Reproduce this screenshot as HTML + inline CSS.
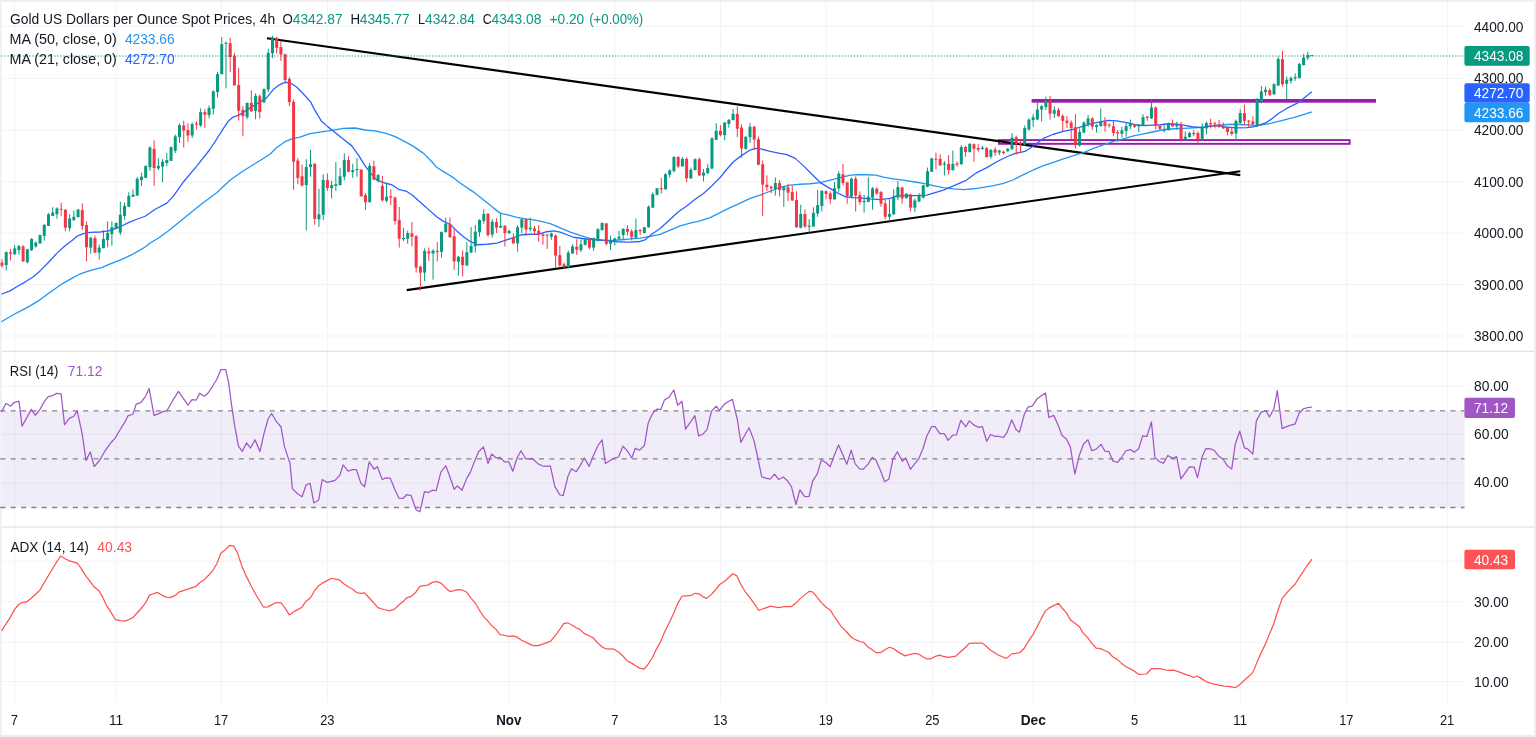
<!DOCTYPE html>
<html><head><meta charset="utf-8"><title>Gold chart</title>
<style>
html,body{margin:0;padding:0;background:#fff}
body{width:1536px;height:737px;overflow:hidden}
svg{display:block;will-change:transform}
svg text{font-family:"Liberation Sans",sans-serif;}
</style></head><body>
<svg width="1536" height="737" viewBox="0 0 1536 737">
<rect x="0" y="0" width="1536" height="737" fill="#eeeff3"/>
<rect x="1.7" y="1.9" width="1532.3" height="732.9" fill="#fff"/>
<g stroke="#f2f3f5" stroke-width="1">
<line x1="14.5" y1="2" x2="14.5" y2="702.8"/>
<line x1="116.3" y1="2" x2="116.3" y2="702.8"/>
<line x1="221.3" y1="2" x2="221.3" y2="702.8"/>
<line x1="327.5" y1="2" x2="327.5" y2="702.8"/>
<line x1="508.8" y1="2" x2="508.8" y2="702.8"/>
<line x1="615" y1="2" x2="615" y2="702.8"/>
<line x1="720.5" y1="2" x2="720.5" y2="702.8"/>
<line x1="826" y1="2" x2="826" y2="702.8"/>
<line x1="932.5" y1="2" x2="932.5" y2="702.8"/>
<line x1="1033.3" y1="2" x2="1033.3" y2="702.8"/>
<line x1="1134.7" y1="2" x2="1134.7" y2="702.8"/>
<line x1="1240.3" y1="2" x2="1240.3" y2="702.8"/>
<line x1="1346.5" y1="2" x2="1346.5" y2="702.8"/>
<line x1="1447.3" y1="2" x2="1447.3" y2="702.8"/>
<line x1="2" y1="26.5" x2="1464.5" y2="26.5"/>
<line x1="2" y1="78.4" x2="1464.5" y2="78.4"/>
<line x1="2" y1="130.3" x2="1464.5" y2="130.3"/>
<line x1="2" y1="181.6" x2="1464.5" y2="181.6"/>
<line x1="2" y1="233" x2="1464.5" y2="233"/>
<line x1="2" y1="284.5" x2="1464.5" y2="284.5"/>
<line x1="2" y1="336" x2="1464.5" y2="336"/>
<line x1="2" y1="386.5" x2="1464.5" y2="386.5"/>
<line x1="2" y1="434.5" x2="1464.5" y2="434.5"/>
<line x1="2" y1="483" x2="1464.5" y2="483"/>
<line x1="2" y1="561.3" x2="1464.5" y2="561.3"/>
<line x1="2" y1="601.8" x2="1464.5" y2="601.8"/>
<line x1="2" y1="642.2" x2="1464.5" y2="642.2"/>
<line x1="2" y1="681.5" x2="1464.5" y2="681.5"/>
</g>
<g stroke="#e0e3eb" stroke-width="1.2"><line x1="2" y1="351.3" x2="1534" y2="351.3"/><line x1="2" y1="527.2" x2="1534" y2="527.2"/></g>
<rect x="2" y="410.8" width="1462.5" height="96.7" fill="#7e57c2" fill-opacity="0.11"/>
<g stroke="#80838c" stroke-width="1.3" stroke-dasharray="5 5.358"><line x1="0.34" y1="410.9" x2="1464.5" y2="410.9"/><line x1="0.34" y1="458.9" x2="1464.5" y2="458.9"/><line x1="0.34" y1="507.5" x2="1464.5" y2="507.5"/></g>
<rect x="1031.6" y="99.0" width="344.4" height="3.7" fill="#9a1cad"/>
<rect x="998.9" y="140.05" width="350.7" height="3.8" fill="#fdf6fd" stroke="#9a1cad" stroke-width="1.9"/>
<g stroke="#000" stroke-width="2.15" stroke-linecap="butt"><line x1="267" y1="38.3" x2="1240.3" y2="175.1"/><line x1="406.7" y1="290.1" x2="1240.3" y2="171.3"/></g>
<polyline fill="none" stroke="#2196f3" stroke-width="1.3" stroke-linejoin="round" points="1.34,321.79 13.35,314.78 21.7,310.44 30.04,305.93 38.38,300.93 46.73,294.75 55.07,288.74 63.42,283.07 71.76,278.4 78.44,274.73 86.78,271.72 93.46,269.55 101.8,267.55 108.48,264.71 116.82,261.38 123.5,258.7 131.84,254.7 138.52,250.86 145.19,247.02 150.2,243.02 158.54,238.01 168.56,230.83 183.58,218.42 200.27,205.07 216.96,192.56 230.31,180.04 241.99,171.7 256.01,163.02 270,154.21 276.68,147.54 285.02,141.7 293.36,138.36 300.04,137.02 310.05,133.68 320.07,132.02 331.75,130.35 343.43,128.34 355.11,128.01 365.13,130.01 376.81,131.18 386.82,133.68 395.17,136.69 403.51,140.86 413.52,146.37 423.54,153.38 431.88,161.72 436.89,167.56 445.23,172.57 453.58,177.91 461.92,184.25 473.6,192.1 485.29,201.28 493.63,208.12 500.31,213.12 508.65,215.13 517,217.3 526.01,218.8 531.87,219.55 540.21,221.22 550.23,223.72 560.24,227.9 570.25,232.07 580.27,235.41 588.61,238.08 596.96,239.75 605.3,240.41 613.64,240.41 621.99,239.75 630.33,238.91 640.03,238.14 650.04,236.48 660.05,234.31 670.07,230.13 680.08,225.96 690.09,223.12 700.11,220.95 710.12,217.62 720.13,212.61 730.15,207.6 740.16,203.1 750.17,198.42 760.19,195.09 770.2,191.25 780.21,187.24 790.23,185.07 800.24,184.24 810.25,183.74 820.27,182.57 830.28,180.07 840.29,177.56 850.31,175.06 856.98,174.56 867,174.73 876.01,175.06 883.36,177.09 893.38,178.93 903.39,180.09 913.4,181.76 923.42,183.43 933.43,185.6 943.44,187.6 953.46,188.94 963.47,189.61 973.48,188.77 983.5,187.27 993.51,185.6 1003.52,183.43 1013.54,179.76 1023.35,174.64 1033.36,169.97 1043.38,165.63 1053.39,162.29 1063.4,158.95 1073.42,155.61 1083.43,152.61 1093.44,148.44 1103.46,144.77 1113.47,141.43 1123.48,138.76 1133.5,135.92 1143.51,133.92 1153.52,131.75 1163.54,129.75 1173.55,128.74 1183.56,128.41 1193.58,127.91 1203.59,127.24 1213.6,125.91 1223.62,124.74 1233.63,124.24 1243.64,124.74 1251.99,125.07 1256.74,125.96 1271.76,123.12 1283.44,120.12 1295.13,117.12 1303.47,114.61 1311.82,111.78"/>
<polyline fill="none" stroke="#2962ff" stroke-width="1.3" stroke-linejoin="round" points="1.34,294.25 10.01,290.91 16.69,286.74 25.03,282.07 33.38,276.73 40.05,270.89 48.4,262.54 56.74,253.36 65.09,245.85 71.76,240.85 77.6,235.84 83.44,233.67 90.12,232.34 100.13,232 108.48,230.83 116.82,228.1 120.16,226.77 128.5,222.6 136.85,219.26 145.19,216.26 155.21,209.25 166.89,203.07 173.56,195.89 183.58,181.71 196.93,165.85 209.45,150 214.78,142.15 218.95,135.48 223.13,128.8 228.13,121.29 233.14,117.12 238.98,115.12 244.82,111.28 251.5,107.11 259.84,102.1 266.52,97.93 273.19,89.58 279.87,84.58 284.88,82.41 289.88,82.57 296.56,87.08 303.23,93.76 310.74,102.1 314.92,110.44 321.59,121.29 328.27,127.13 336.61,133.81 344.96,140.48 351.78,145.87 358.45,155.05 365.13,165.89 370.13,172.57 376.81,180.08 385.15,183.08 391.83,184.75 398.5,189.26 406.85,191.43 413.52,195.93 415.05,197.52 423.39,205.03 430.07,210.87 436.74,216.72 443.42,221.39 450.09,224.23 456.77,230.9 463.44,236.74 470.12,241.42 477.63,244.75 486.81,244.25 496.82,243.08 505.17,240.41 513.51,237.58 521.86,234.74 530.2,234.24 538.54,234.24 546.89,231.74 553.56,230.9 560.24,232.07 566.92,234.74 573.59,237.24 583.6,238.74 595.29,239.75 605.3,240.41 616.98,241.75 627,242.08 630.01,242.15 640.03,241.48 645.03,239.81 651.71,234.31 660.05,228.46 668.4,220.95 678.41,211.78 686.76,205.93 695.1,199.26 703.44,193.42 711.79,185.91 720.13,177.56 726.81,169.22 733.48,161.71 741.83,155.37 750.17,150.03 755.18,148.36 761.86,149.19 770.2,151.36 778.54,153.03 786.89,154.7 795.23,158.37 803.58,165.88 811.92,174.23 820.27,182.57 828.61,187.58 836.96,192.58 845.3,196.76 853.64,197.59 861.99,198.09 870.33,198.93 880.03,199.62 890.04,198.45 896.72,195.95 906.73,195.45 916.74,195.61 926.76,195.11 935.1,192.61 943.44,190.11 953.46,185.93 965.14,180.93 976.82,172.58 986.84,167.58 996.85,161.74 1006.86,156.73 1015.21,153.39 1025.02,151.44 1033.36,145.93 1043.38,138.42 1053.39,134.25 1063.4,131.42 1073.42,129.25 1081.76,126.74 1090.11,124.24 1098.45,122.07 1108.46,120.4 1116.81,120.9 1126.82,122.57 1135.17,124.74 1143.51,125.57 1151.86,125.07 1160.2,124.74 1168.54,123.74 1176.89,124.24 1183.56,125.07 1191.91,126.74 1201.92,127.58 1210.27,125.91 1218.61,125.91 1226.96,127.24 1236.97,127.91 1246.98,127.58 1253.66,126.74 1256.74,125.96 1266.76,122.29 1273.43,117.62 1278.44,113.44 1286.78,108.44 1296.8,103.43 1303.47,98.42 1308.48,94.59 1311.82,91.75"/>
<g stroke-width="1">
<line x1="2" y1="259.31" x2="2" y2="267.66" stroke="#f23645"/>
<line x1="6.23" y1="251.3" x2="6.23" y2="270.49" stroke="#089981"/>
<line x1="10.45" y1="248.8" x2="10.45" y2="260.48" stroke="#f23645"/>
<line x1="14.68" y1="245.13" x2="14.68" y2="254.81" stroke="#089981"/>
<line x1="18.9" y1="245.13" x2="18.9" y2="254.81" stroke="#089981"/>
<line x1="23.13" y1="245.13" x2="23.13" y2="261.48" stroke="#f23645"/>
<line x1="27.36" y1="248.8" x2="27.36" y2="263.48" stroke="#089981"/>
<line x1="31.58" y1="238.12" x2="31.58" y2="250.97" stroke="#089981"/>
<line x1="35.81" y1="241.46" x2="35.81" y2="247.63" stroke="#089981"/>
<line x1="40.03" y1="234.61" x2="40.03" y2="243.79" stroke="#089981"/>
<line x1="44.26" y1="224.27" x2="44.26" y2="240.62" stroke="#089981"/>
<line x1="48.49" y1="213.08" x2="48.49" y2="225.93" stroke="#089981"/>
<line x1="52.71" y1="207.24" x2="52.71" y2="216.26" stroke="#089981"/>
<line x1="56.94" y1="207.24" x2="56.94" y2="218.76" stroke="#089981"/>
<line x1="61.16" y1="202.57" x2="61.16" y2="216.26" stroke="#f23645"/>
<line x1="65.39" y1="209.25" x2="65.39" y2="231.28" stroke="#f23645"/>
<line x1="69.62" y1="214.25" x2="69.62" y2="231.28" stroke="#089981"/>
<line x1="73.84" y1="210.41" x2="73.84" y2="220.93" stroke="#089981"/>
<line x1="78.07" y1="208.91" x2="78.07" y2="217.59" stroke="#089981"/>
<line x1="82.29" y1="203.4" x2="82.29" y2="230.11" stroke="#f23645"/>
<line x1="86.52" y1="221.43" x2="86.52" y2="261.32" stroke="#f23645"/>
<line x1="90.75" y1="237.12" x2="90.75" y2="253.81" stroke="#089981"/>
<line x1="94.97" y1="235.45" x2="94.97" y2="252.97" stroke="#f23645"/>
<line x1="99.2" y1="244.29" x2="99.2" y2="259.65" stroke="#089981"/>
<line x1="103.42" y1="230.11" x2="103.42" y2="248.46" stroke="#089981"/>
<line x1="107.65" y1="221.43" x2="107.65" y2="247.3" stroke="#089981"/>
<line x1="111.88" y1="221.43" x2="111.88" y2="245.63" stroke="#089981"/>
<line x1="116.1" y1="222.6" x2="116.1" y2="228.77" stroke="#089981"/>
<line x1="120.33" y1="201.74" x2="120.33" y2="235.11" stroke="#089981"/>
<line x1="124.55" y1="202.57" x2="124.55" y2="219.76" stroke="#089981"/>
<line x1="128.78" y1="192.22" x2="128.78" y2="207.08" stroke="#089981"/>
<line x1="133.01" y1="189.55" x2="133.01" y2="196.73" stroke="#089981"/>
<line x1="137.23" y1="177.2" x2="137.23" y2="195.89" stroke="#089981"/>
<line x1="141.46" y1="172.53" x2="141.46" y2="185.88" stroke="#089981"/>
<line x1="145.68" y1="165.02" x2="145.68" y2="178.04" stroke="#089981"/>
<line x1="149.91" y1="146.33" x2="149.91" y2="170.86" stroke="#089981"/>
<line x1="154.14" y1="140.48" x2="154.14" y2="185.88" stroke="#f23645"/>
<line x1="158.36" y1="158.34" x2="158.36" y2="170.03" stroke="#089981"/>
<line x1="162.59" y1="159.18" x2="162.59" y2="182.21" stroke="#089981"/>
<line x1="166.81" y1="152.84" x2="166.81" y2="166.36" stroke="#089981"/>
<line x1="171.04" y1="146.33" x2="171.04" y2="161.18" stroke="#089981"/>
<line x1="175.27" y1="134.64" x2="175.27" y2="153" stroke="#089981"/>
<line x1="179.49" y1="123.8" x2="179.49" y2="142.99" stroke="#089981"/>
<line x1="183.72" y1="120.79" x2="183.72" y2="147.49" stroke="#f23645"/>
<line x1="187.94" y1="123.46" x2="187.94" y2="141.82" stroke="#f23645"/>
<line x1="192.17" y1="122.46" x2="192.17" y2="137.98" stroke="#089981"/>
<line x1="196.4" y1="121.29" x2="196.4" y2="129.64" stroke="#f23645"/>
<line x1="200.62" y1="108.44" x2="200.62" y2="126.8" stroke="#089981"/>
<line x1="204.85" y1="109.28" x2="204.85" y2="127.97" stroke="#f23645"/>
<line x1="209.07" y1="105.44" x2="209.07" y2="118.46" stroke="#089981"/>
<line x1="213.3" y1="90.42" x2="213.3" y2="114.62" stroke="#089981"/>
<line x1="217.53" y1="71.73" x2="217.53" y2="97.59" stroke="#089981"/>
<line x1="221.75" y1="37.01" x2="221.75" y2="74.23" stroke="#089981"/>
<line x1="225.98" y1="41.69" x2="225.98" y2="88.42" stroke="#089981"/>
<line x1="230.2" y1="37.85" x2="230.2" y2="72.06" stroke="#f23645"/>
<line x1="234.43" y1="52.87" x2="234.43" y2="85.41" stroke="#f23645"/>
<line x1="238.66" y1="67.89" x2="238.66" y2="120.46" stroke="#f23645"/>
<line x1="242.88" y1="106.27" x2="242.88" y2="136.31" stroke="#f23645"/>
<line x1="247.11" y1="102.43" x2="247.11" y2="119.29" stroke="#089981"/>
<line x1="251.33" y1="90.42" x2="251.33" y2="111.78" stroke="#f23645"/>
<line x1="255.56" y1="93.42" x2="255.56" y2="119.29" stroke="#089981"/>
<line x1="259.79" y1="94.26" x2="259.79" y2="118.46" stroke="#f23645"/>
<line x1="264.01" y1="88.42" x2="264.01" y2="102.93" stroke="#089981"/>
<line x1="268.24" y1="48.7" x2="268.24" y2="92.09" stroke="#089981"/>
<line x1="272.46" y1="35.68" x2="272.46" y2="57.87" stroke="#089981"/>
<line x1="276.69" y1="37.01" x2="276.69" y2="53.7" stroke="#f23645"/>
<line x1="280.92" y1="41.19" x2="280.92" y2="60.88" stroke="#f23645"/>
<line x1="285.14" y1="53.7" x2="285.14" y2="82.07" stroke="#f23645"/>
<line x1="289.37" y1="77.07" x2="289.37" y2="106.27" stroke="#f23645"/>
<line x1="293.59" y1="99.6" x2="293.59" y2="189.76" stroke="#f23645"/>
<line x1="297.82" y1="158.05" x2="297.82" y2="184.25" stroke="#f23645"/>
<line x1="302.05" y1="164.73" x2="302.05" y2="186.42" stroke="#f23645"/>
<line x1="306.27" y1="159.22" x2="306.27" y2="230.48" stroke="#089981"/>
<line x1="310.5" y1="149.71" x2="310.5" y2="176.74" stroke="#089981"/>
<line x1="314.72" y1="163.06" x2="314.72" y2="224.81" stroke="#f23645"/>
<line x1="318.95" y1="188.93" x2="318.95" y2="226.81" stroke="#089981"/>
<line x1="323.18" y1="174.24" x2="323.18" y2="220.13" stroke="#089981"/>
<line x1="327.4" y1="173.4" x2="327.4" y2="190.93" stroke="#f23645"/>
<line x1="331.63" y1="180.91" x2="331.63" y2="198.44" stroke="#089981"/>
<line x1="335.85" y1="162.06" x2="335.85" y2="190.93" stroke="#089981"/>
<line x1="340.08" y1="167.9" x2="340.08" y2="185.59" stroke="#089981"/>
<line x1="344.31" y1="153.38" x2="344.31" y2="180.41" stroke="#089981"/>
<line x1="348.53" y1="156.21" x2="348.53" y2="172.24" stroke="#f23645"/>
<line x1="352.76" y1="163.72" x2="352.76" y2="177.91" stroke="#089981"/>
<line x1="356.98" y1="158.05" x2="356.98" y2="176.74" stroke="#089981"/>
<line x1="361.21" y1="169.23" x2="361.21" y2="196.77" stroke="#f23645"/>
<line x1="365.44" y1="192.93" x2="365.44" y2="209.79" stroke="#f23645"/>
<line x1="369.66" y1="163.06" x2="369.66" y2="202.61" stroke="#089981"/>
<line x1="373.89" y1="160.89" x2="373.89" y2="180.08" stroke="#f23645"/>
<line x1="378.11" y1="174.24" x2="378.11" y2="182.58" stroke="#089981"/>
<line x1="382.34" y1="175.91" x2="382.34" y2="201.7" stroke="#f23645"/>
<line x1="386.57" y1="182.5" x2="386.57" y2="202.53" stroke="#089981"/>
<line x1="390.79" y1="189.18" x2="390.79" y2="205.03" stroke="#f23645"/>
<line x1="395.02" y1="196.69" x2="395.02" y2="224.73" stroke="#f23645"/>
<line x1="399.24" y1="207.04" x2="399.24" y2="247.59" stroke="#f23645"/>
<line x1="403.47" y1="227.9" x2="403.47" y2="240.91" stroke="#089981"/>
<line x1="407.7" y1="230.57" x2="407.7" y2="243.75" stroke="#089981"/>
<line x1="411.92" y1="222.06" x2="411.92" y2="246.42" stroke="#f23645"/>
<line x1="416.15" y1="235.07" x2="416.15" y2="272.62" stroke="#f23645"/>
<line x1="420.37" y1="265.45" x2="420.37" y2="290.48" stroke="#f23645"/>
<line x1="424.6" y1="248.42" x2="424.6" y2="281.3" stroke="#089981"/>
<line x1="428.83" y1="247.59" x2="428.83" y2="260.94" stroke="#f23645"/>
<line x1="433.05" y1="249.26" x2="433.05" y2="279.63" stroke="#089981"/>
<line x1="437.28" y1="242.08" x2="437.28" y2="261.44" stroke="#f23645"/>
<line x1="441.5" y1="231.4" x2="441.5" y2="257.6" stroke="#089981"/>
<line x1="445.73" y1="217.55" x2="445.73" y2="232.57" stroke="#089981"/>
<line x1="449.96" y1="217.55" x2="449.96" y2="237.91" stroke="#f23645"/>
<line x1="454.18" y1="228.4" x2="454.18" y2="269.79" stroke="#f23645"/>
<line x1="458.41" y1="255.93" x2="458.41" y2="275.63" stroke="#089981"/>
<line x1="462.63" y1="250.43" x2="462.63" y2="276.46" stroke="#f23645"/>
<line x1="466.86" y1="242.08" x2="466.86" y2="266.28" stroke="#089981"/>
<line x1="471.09" y1="227.06" x2="471.09" y2="253.1" stroke="#089981"/>
<line x1="475.31" y1="225.06" x2="475.31" y2="252.6" stroke="#089981"/>
<line x1="479.54" y1="219.22" x2="479.54" y2="236.74" stroke="#089981"/>
<line x1="483.76" y1="209.21" x2="483.76" y2="223.72" stroke="#089981"/>
<line x1="487.99" y1="213.04" x2="487.99" y2="236.74" stroke="#f23645"/>
<line x1="492.22" y1="219.22" x2="492.22" y2="237.58" stroke="#089981"/>
<line x1="496.44" y1="218.38" x2="496.44" y2="233.07" stroke="#f23645"/>
<line x1="500.67" y1="213.38" x2="500.67" y2="228.06" stroke="#089981"/>
<line x1="504.89" y1="225.06" x2="504.89" y2="246.42" stroke="#f23645"/>
<line x1="509.12" y1="229.73" x2="509.12" y2="234.24" stroke="#089981"/>
<line x1="513.35" y1="233.4" x2="513.35" y2="243.75" stroke="#f23645"/>
<line x1="517.57" y1="225.06" x2="517.57" y2="251.76" stroke="#089981"/>
<line x1="521.8" y1="218.72" x2="521.8" y2="233.07" stroke="#089981"/>
<line x1="526.02" y1="218.72" x2="526.02" y2="235.91" stroke="#f23645"/>
<line x1="530.25" y1="217.55" x2="530.25" y2="231.4" stroke="#089981"/>
<line x1="534.48" y1="225.89" x2="534.48" y2="234.74" stroke="#f23645"/>
<line x1="538.7" y1="225.06" x2="538.7" y2="241.75" stroke="#f23645"/>
<line x1="542.93" y1="233.4" x2="542.93" y2="244.59" stroke="#f23645"/>
<line x1="547.15" y1="234.24" x2="547.15" y2="248.93" stroke="#f23645"/>
<line x1="551.38" y1="232.57" x2="551.38" y2="239.75" stroke="#089981"/>
<line x1="555.61" y1="234.24" x2="555.61" y2="268.45" stroke="#f23645"/>
<line x1="559.83" y1="245.92" x2="559.83" y2="266.78" stroke="#f23645"/>
<line x1="564.06" y1="262.61" x2="564.06" y2="267.95" stroke="#f23645"/>
<line x1="568.28" y1="250.59" x2="568.28" y2="268.45" stroke="#089981"/>
<line x1="572.51" y1="244.25" x2="572.51" y2="253.93" stroke="#089981"/>
<line x1="576.74" y1="239.25" x2="576.74" y2="254.77" stroke="#f23645"/>
<line x1="580.96" y1="239.75" x2="580.96" y2="252.1" stroke="#089981"/>
<line x1="585.19" y1="238.41" x2="585.19" y2="245.42" stroke="#089981"/>
<line x1="589.41" y1="238.08" x2="589.41" y2="249.26" stroke="#f23645"/>
<line x1="593.64" y1="237.58" x2="593.64" y2="250.93" stroke="#089981"/>
<line x1="597.87" y1="228.06" x2="597.87" y2="241.42" stroke="#089981"/>
<line x1="602.09" y1="222.22" x2="602.09" y2="230.57" stroke="#089981"/>
<line x1="606.32" y1="223.06" x2="606.32" y2="245.59" stroke="#f23645"/>
<line x1="610.54" y1="235.57" x2="610.54" y2="250.09" stroke="#089981"/>
<line x1="614.77" y1="237.91" x2="614.77" y2="245.42" stroke="#089981"/>
<line x1="619" y1="230.9" x2="619" y2="240.08" stroke="#089981"/>
<line x1="623.22" y1="228.13" x2="623.22" y2="239.31" stroke="#089981"/>
<line x1="627.45" y1="225.13" x2="627.45" y2="235.47" stroke="#f23645"/>
<line x1="631.67" y1="229.3" x2="631.67" y2="240.48" stroke="#f23645"/>
<line x1="635.9" y1="218.45" x2="635.9" y2="238.48" stroke="#089981"/>
<line x1="640.13" y1="228.8" x2="640.13" y2="234.81" stroke="#f23645"/>
<line x1="644.35" y1="226.8" x2="644.35" y2="233.47" stroke="#089981"/>
<line x1="648.58" y1="205.43" x2="648.58" y2="227.63" stroke="#089981"/>
<line x1="652.8" y1="192.25" x2="652.8" y2="207.94" stroke="#089981"/>
<line x1="657.03" y1="188.08" x2="657.03" y2="195.42" stroke="#089981"/>
<line x1="661.26" y1="178.06" x2="661.26" y2="193.42" stroke="#f23645"/>
<line x1="665.48" y1="173.39" x2="665.48" y2="189.75" stroke="#089981"/>
<line x1="669.71" y1="169.22" x2="669.71" y2="177.56" stroke="#089981"/>
<line x1="673.93" y1="156.2" x2="673.93" y2="172.56" stroke="#089981"/>
<line x1="678.16" y1="156.2" x2="678.16" y2="168.05" stroke="#f23645"/>
<line x1="682.39" y1="157.2" x2="682.39" y2="166.72" stroke="#089981"/>
<line x1="686.61" y1="157.54" x2="686.61" y2="182.24" stroke="#f23645"/>
<line x1="690.84" y1="167.55" x2="690.84" y2="178.73" stroke="#089981"/>
<line x1="695.06" y1="158.37" x2="695.06" y2="170.39" stroke="#089981"/>
<line x1="699.29" y1="157.54" x2="699.29" y2="175.89" stroke="#f23645"/>
<line x1="703.52" y1="168.89" x2="703.52" y2="181.4" stroke="#089981"/>
<line x1="707.74" y1="164.21" x2="707.74" y2="174.23" stroke="#089981"/>
<line x1="711.97" y1="137.1" x2="711.97" y2="169.31" stroke="#089981"/>
<line x1="716.19" y1="123.08" x2="716.19" y2="140.11" stroke="#089981"/>
<line x1="720.42" y1="125.09" x2="720.42" y2="136.44" stroke="#f23645"/>
<line x1="724.65" y1="122.08" x2="724.65" y2="140.11" stroke="#089981"/>
<line x1="728.87" y1="119.25" x2="728.87" y2="127.59" stroke="#089981"/>
<line x1="733.1" y1="108.9" x2="733.1" y2="120.41" stroke="#089981"/>
<line x1="737.32" y1="106.4" x2="737.32" y2="137.1" stroke="#f23645"/>
<line x1="741.55" y1="124.25" x2="741.55" y2="157.63" stroke="#f23645"/>
<line x1="745.78" y1="136.27" x2="745.78" y2="149.29" stroke="#089981"/>
<line x1="750" y1="123.08" x2="750" y2="142.94" stroke="#089981"/>
<line x1="754.23" y1="125.92" x2="754.23" y2="150.12" stroke="#f23645"/>
<line x1="758.45" y1="136.44" x2="758.45" y2="165.14" stroke="#f23645"/>
<line x1="762.68" y1="160.54" x2="762.68" y2="215.95" stroke="#f23645"/>
<line x1="766.91" y1="175.39" x2="766.91" y2="190.91" stroke="#f23645"/>
<line x1="771.13" y1="185.57" x2="771.13" y2="193.42" stroke="#f23645"/>
<line x1="775.36" y1="177.56" x2="775.36" y2="195.59" stroke="#089981"/>
<line x1="779.58" y1="180.07" x2="779.58" y2="196.42" stroke="#f23645"/>
<line x1="783.81" y1="186.74" x2="783.81" y2="206.77" stroke="#089981"/>
<line x1="788.04" y1="183.74" x2="788.04" y2="200.93" stroke="#f23645"/>
<line x1="792.26" y1="185.91" x2="792.26" y2="200.93" stroke="#f23645"/>
<line x1="796.49" y1="191.42" x2="796.49" y2="227.63" stroke="#f23645"/>
<line x1="800.71" y1="204.77" x2="800.71" y2="228.46" stroke="#089981"/>
<line x1="804.94" y1="209.27" x2="804.94" y2="228.13" stroke="#f23645"/>
<line x1="809.17" y1="219.29" x2="809.17" y2="232.64" stroke="#089981"/>
<line x1="813.39" y1="207.27" x2="813.39" y2="226.8" stroke="#089981"/>
<line x1="817.62" y1="190.08" x2="817.62" y2="216.78" stroke="#089981"/>
<line x1="821.84" y1="190.08" x2="821.84" y2="211.44" stroke="#089981"/>
<line x1="826.07" y1="190.41" x2="826.07" y2="199.26" stroke="#f23645"/>
<line x1="830.3" y1="191.42" x2="830.3" y2="203.77" stroke="#f23645"/>
<line x1="834.52" y1="182.07" x2="834.52" y2="199.76" stroke="#089981"/>
<line x1="838.75" y1="171.22" x2="838.75" y2="191.75" stroke="#089981"/>
<line x1="842.97" y1="163.88" x2="842.97" y2="185.57" stroke="#f23645"/>
<line x1="847.2" y1="181.74" x2="847.2" y2="203.77" stroke="#f23645"/>
<line x1="851.43" y1="177.56" x2="851.43" y2="198.42" stroke="#089981"/>
<line x1="855.65" y1="176.4" x2="855.65" y2="211.44" stroke="#f23645"/>
<line x1="859.88" y1="191.42" x2="859.88" y2="204.77" stroke="#f23645"/>
<line x1="864.1" y1="194.78" x2="864.1" y2="212.64" stroke="#089981"/>
<line x1="868.33" y1="177.26" x2="868.33" y2="202.29" stroke="#089981"/>
<line x1="872.56" y1="187.1" x2="872.56" y2="209.8" stroke="#089981"/>
<line x1="876.78" y1="187.1" x2="876.78" y2="194.78" stroke="#f23645"/>
<line x1="881.01" y1="190.94" x2="881.01" y2="206.8" stroke="#f23645"/>
<line x1="885.23" y1="200.12" x2="885.23" y2="219.65" stroke="#f23645"/>
<line x1="889.46" y1="199.29" x2="889.46" y2="220.65" stroke="#089981"/>
<line x1="893.69" y1="189.27" x2="893.69" y2="214.81" stroke="#089981"/>
<line x1="897.91" y1="180.93" x2="897.91" y2="200.12" stroke="#089981"/>
<line x1="902.14" y1="186.77" x2="902.14" y2="203.79" stroke="#f23645"/>
<line x1="906.36" y1="193.11" x2="906.36" y2="198.79" stroke="#089981"/>
<line x1="910.59" y1="193.95" x2="910.59" y2="211.47" stroke="#f23645"/>
<line x1="914.82" y1="198.45" x2="914.82" y2="211.8" stroke="#089981"/>
<line x1="919.04" y1="193.11" x2="919.04" y2="202.29" stroke="#089981"/>
<line x1="923.27" y1="184.6" x2="923.27" y2="198.45" stroke="#089981"/>
<line x1="927.49" y1="167.58" x2="927.49" y2="187.27" stroke="#089981"/>
<line x1="931.72" y1="157.9" x2="931.72" y2="172.08" stroke="#089981"/>
<line x1="935.95" y1="152.56" x2="935.95" y2="169.25" stroke="#f23645"/>
<line x1="940.17" y1="154.23" x2="940.17" y2="165.91" stroke="#f23645"/>
<line x1="944.4" y1="160.9" x2="944.4" y2="175.59" stroke="#089981"/>
<line x1="948.62" y1="155.06" x2="948.62" y2="174.75" stroke="#f23645"/>
<line x1="952.85" y1="150.55" x2="952.85" y2="170.58" stroke="#089981"/>
<line x1="957.08" y1="161.4" x2="957.08" y2="166.74" stroke="#f23645"/>
<line x1="961.3" y1="145.05" x2="961.3" y2="164.74" stroke="#089981"/>
<line x1="965.53" y1="145.88" x2="965.53" y2="156.73" stroke="#f23645"/>
<line x1="969.75" y1="143.04" x2="969.75" y2="152.56" stroke="#089981"/>
<line x1="973.98" y1="143.38" x2="973.98" y2="161.74" stroke="#f23645"/>
<line x1="978.21" y1="144.21" x2="978.21" y2="151.72" stroke="#f23645"/>
<line x1="982.43" y1="145.88" x2="982.43" y2="149.72" stroke="#089981"/>
<line x1="986.66" y1="147.05" x2="986.66" y2="157.56" stroke="#f23645"/>
<line x1="990.88" y1="148.89" x2="990.88" y2="158.73" stroke="#089981"/>
<line x1="995.11" y1="147.05" x2="995.11" y2="155.89" stroke="#f23645"/>
<line x1="999.34" y1="149.72" x2="999.34" y2="155.06" stroke="#089981"/>
<line x1="1003.56" y1="150.55" x2="1003.56" y2="154.23" stroke="#f23645"/>
<line x1="1007.79" y1="147.88" x2="1007.79" y2="151.72" stroke="#089981"/>
<line x1="1012.01" y1="133.08" x2="1012.01" y2="149.77" stroke="#089981"/>
<line x1="1016.24" y1="135.59" x2="1016.24" y2="154.78" stroke="#f23645"/>
<line x1="1020.47" y1="139.26" x2="1020.47" y2="152.94" stroke="#f23645"/>
<line x1="1024.69" y1="125.57" x2="1024.69" y2="145.43" stroke="#089981"/>
<line x1="1028.92" y1="118.4" x2="1028.92" y2="130.91" stroke="#089981"/>
<line x1="1033.14" y1="114.23" x2="1033.14" y2="126.74" stroke="#089981"/>
<line x1="1037.37" y1="100.87" x2="1037.37" y2="120.07" stroke="#089981"/>
<line x1="1041.6" y1="105.05" x2="1041.6" y2="121.4" stroke="#089981"/>
<line x1="1045.82" y1="96.7" x2="1045.82" y2="110.05" stroke="#089981"/>
<line x1="1050.05" y1="95.87" x2="1050.05" y2="119.57" stroke="#f23645"/>
<line x1="1054.27" y1="106.38" x2="1054.27" y2="117.9" stroke="#089981"/>
<line x1="1058.5" y1="108.05" x2="1058.5" y2="116.73" stroke="#f23645"/>
<line x1="1062.73" y1="114.23" x2="1062.73" y2="131.42" stroke="#f23645"/>
<line x1="1066.95" y1="116.23" x2="1066.95" y2="127.91" stroke="#f23645"/>
<line x1="1071.18" y1="120.4" x2="1071.18" y2="139.26" stroke="#f23645"/>
<line x1="1075.4" y1="114.23" x2="1075.4" y2="148.44" stroke="#f23645"/>
<line x1="1079.63" y1="128.41" x2="1079.63" y2="146.44" stroke="#089981"/>
<line x1="1083.86" y1="121.4" x2="1083.86" y2="133.08" stroke="#089981"/>
<line x1="1088.08" y1="115.06" x2="1088.08" y2="126.74" stroke="#089981"/>
<line x1="1092.31" y1="117.23" x2="1092.31" y2="129.75" stroke="#f23645"/>
<line x1="1096.53" y1="124.24" x2="1096.53" y2="132.58" stroke="#089981"/>
<line x1="1100.76" y1="108.38" x2="1100.76" y2="126.74" stroke="#089981"/>
<line x1="1104.99" y1="117.23" x2="1104.99" y2="131.75" stroke="#f23645"/>
<line x1="1109.21" y1="123.4" x2="1109.21" y2="127.58" stroke="#f23645"/>
<line x1="1113.44" y1="120.9" x2="1113.44" y2="136.26" stroke="#f23645"/>
<line x1="1117.66" y1="130.08" x2="1117.66" y2="141.76" stroke="#f23645"/>
<line x1="1121.89" y1="126.74" x2="1121.89" y2="137.59" stroke="#089981"/>
<line x1="1126.12" y1="123.07" x2="1126.12" y2="136.76" stroke="#089981"/>
<line x1="1130.34" y1="119.57" x2="1130.34" y2="129.25" stroke="#089981"/>
<line x1="1134.57" y1="123.91" x2="1134.57" y2="127.91" stroke="#f23645"/>
<line x1="1138.79" y1="124.24" x2="1138.79" y2="132.25" stroke="#089981"/>
<line x1="1143.02" y1="114.23" x2="1143.02" y2="125.57" stroke="#089981"/>
<line x1="1147.25" y1="115.89" x2="1147.25" y2="120.9" stroke="#f23645"/>
<line x1="1151.47" y1="99.21" x2="1151.47" y2="118.9" stroke="#089981"/>
<line x1="1155.7" y1="106.38" x2="1155.7" y2="129.58" stroke="#f23645"/>
<line x1="1159.92" y1="125.07" x2="1159.92" y2="129.75" stroke="#f23645"/>
<line x1="1164.15" y1="125.07" x2="1164.15" y2="132.58" stroke="#089981"/>
<line x1="1168.38" y1="122.57" x2="1168.38" y2="130.58" stroke="#089981"/>
<line x1="1172.6" y1="119.57" x2="1172.6" y2="127.08" stroke="#f23645"/>
<line x1="1176.83" y1="121.74" x2="1176.83" y2="129.58" stroke="#089981"/>
<line x1="1181.05" y1="121.74" x2="1181.05" y2="141.76" stroke="#f23645"/>
<line x1="1185.28" y1="131.42" x2="1185.28" y2="140.43" stroke="#089981"/>
<line x1="1189.51" y1="131.75" x2="1189.51" y2="137.59" stroke="#089981"/>
<line x1="1193.73" y1="130.41" x2="1193.73" y2="136.26" stroke="#f23645"/>
<line x1="1197.96" y1="131.42" x2="1197.96" y2="144.27" stroke="#f23645"/>
<line x1="1202.18" y1="123.4" x2="1202.18" y2="139.76" stroke="#089981"/>
<line x1="1206.41" y1="121.4" x2="1206.41" y2="134.59" stroke="#089981"/>
<line x1="1210.64" y1="118.73" x2="1210.64" y2="128.41" stroke="#f23645"/>
<line x1="1214.86" y1="121.74" x2="1214.86" y2="128.41" stroke="#f23645"/>
<line x1="1219.09" y1="119.73" x2="1219.09" y2="127.91" stroke="#f23645"/>
<line x1="1223.31" y1="122.57" x2="1223.31" y2="128.91" stroke="#f23645"/>
<line x1="1227.54" y1="126.41" x2="1227.54" y2="135.42" stroke="#f23645"/>
<line x1="1231.77" y1="126.74" x2="1231.77" y2="135.59" stroke="#f23645"/>
<line x1="1235.99" y1="119.57" x2="1235.99" y2="139.26" stroke="#089981"/>
<line x1="1240.22" y1="109.22" x2="1240.22" y2="123.74" stroke="#089981"/>
<line x1="1244.44" y1="104.55" x2="1244.44" y2="124.74" stroke="#f23645"/>
<line x1="1248.67" y1="120.07" x2="1248.67" y2="126.74" stroke="#f23645"/>
<line x1="1252.9" y1="116.23" x2="1252.9" y2="125.07" stroke="#f23645"/>
<line x1="1257.12" y1="98.09" x2="1257.12" y2="126.8" stroke="#089981"/>
<line x1="1261.35" y1="85.91" x2="1261.35" y2="103.43" stroke="#089981"/>
<line x1="1265.57" y1="86.74" x2="1265.57" y2="95.92" stroke="#089981"/>
<line x1="1269.8" y1="88.41" x2="1269.8" y2="95.92" stroke="#f23645"/>
<line x1="1274.03" y1="83.07" x2="1274.03" y2="95.09" stroke="#089981"/>
<line x1="1278.25" y1="56.7" x2="1278.25" y2="85.91" stroke="#089981"/>
<line x1="1282.48" y1="50.86" x2="1282.48" y2="86.74" stroke="#f23645"/>
<line x1="1286.7" y1="76.4" x2="1286.7" y2="99.26" stroke="#089981"/>
<line x1="1290.93" y1="76.4" x2="1290.93" y2="83.74" stroke="#089981"/>
<line x1="1295.16" y1="73.39" x2="1295.16" y2="80.9" stroke="#089981"/>
<line x1="1299.38" y1="63.04" x2="1299.38" y2="78.4" stroke="#089981"/>
<line x1="1303.61" y1="53.87" x2="1303.61" y2="65.55" stroke="#089981"/>
<line x1="1307.83" y1="51.7" x2="1307.83" y2="60.04" stroke="#089981"/>
<line x1="1312.06" y1="55.37" x2="1312.06" y2="56.03" stroke="#089981"/>
</g>
<g>
<rect x="0.5" y="262.65" width="3" height="3" fill="#f23645"/>
<rect x="4.73" y="252.14" width="3" height="13.02" fill="#089981"/>
<rect x="8.95" y="252.3" width="3" height="1.5" fill="#f23645"/>
<rect x="13.18" y="248.46" width="3" height="5.84" fill="#089981"/>
<rect x="17.4" y="245.96" width="3" height="4.17" fill="#089981"/>
<rect x="21.63" y="246.46" width="3" height="15.02" fill="#f23645"/>
<rect x="25.86" y="249.3" width="3" height="12.85" fill="#089981"/>
<rect x="30.08" y="238.95" width="3" height="11.18" fill="#089981"/>
<rect x="34.31" y="242.62" width="3" height="3.84" fill="#089981"/>
<rect x="38.53" y="235.11" width="3" height="8.34" fill="#089981"/>
<rect x="42.76" y="224.77" width="3" height="11.18" fill="#089981"/>
<rect x="46.99" y="214.25" width="3" height="11.68" fill="#089981"/>
<rect x="51.21" y="212.58" width="3" height="3.34" fill="#089981"/>
<rect x="55.44" y="208.41" width="3" height="5.84" fill="#089981"/>
<rect x="59.66" y="208.83" width="3" height="1" fill="#f23645"/>
<rect x="63.89" y="209.75" width="3" height="17.86" fill="#f23645"/>
<rect x="68.12" y="218.42" width="3" height="9.68" fill="#089981"/>
<rect x="72.34" y="216.76" width="3" height="3.34" fill="#089981"/>
<rect x="76.57" y="209.58" width="3" height="7.51" fill="#089981"/>
<rect x="80.79" y="210.08" width="3" height="15.85" fill="#f23645"/>
<rect x="85.02" y="225.1" width="3" height="22.2" fill="#f23645"/>
<rect x="89.25" y="237.62" width="3" height="10.01" fill="#089981"/>
<rect x="93.47" y="238.12" width="3" height="14.52" fill="#f23645"/>
<rect x="97.7" y="247.63" width="3" height="5.01" fill="#089981"/>
<rect x="101.92" y="238.95" width="3" height="9.18" fill="#089981"/>
<rect x="106.15" y="232.94" width="3" height="7.18" fill="#089981"/>
<rect x="110.38" y="227.27" width="3" height="6.68" fill="#089981"/>
<rect x="114.6" y="222.93" width="3" height="5.51" fill="#089981"/>
<rect x="118.83" y="214.75" width="3" height="17.86" fill="#089981"/>
<rect x="123.05" y="205.91" width="3" height="10.01" fill="#089981"/>
<rect x="127.28" y="195.89" width="3" height="10.85" fill="#089981"/>
<rect x="131.51" y="194.73" width="3" height="2" fill="#089981"/>
<rect x="135.73" y="178.7" width="3" height="16.86" fill="#089981"/>
<rect x="139.96" y="176.7" width="3" height="3.34" fill="#089981"/>
<rect x="144.18" y="166.19" width="3" height="11.68" fill="#089981"/>
<rect x="148.41" y="147.49" width="3" height="19.7" fill="#089981"/>
<rect x="152.64" y="148.83" width="3" height="19.19" fill="#f23645"/>
<rect x="156.86" y="165.85" width="3" height="2.5" fill="#089981"/>
<rect x="161.09" y="161.68" width="3" height="5.01" fill="#089981"/>
<rect x="165.31" y="160.01" width="3" height="3" fill="#089981"/>
<rect x="169.54" y="147.16" width="3" height="13.69" fill="#089981"/>
<rect x="173.77" y="136.31" width="3" height="14.52" fill="#089981"/>
<rect x="177.99" y="125.13" width="3" height="12.02" fill="#089981"/>
<rect x="182.22" y="125.46" width="3" height="5.01" fill="#f23645"/>
<rect x="186.44" y="130.14" width="3" height="5.34" fill="#f23645"/>
<rect x="190.67" y="124.13" width="3" height="11.35" fill="#089981"/>
<rect x="194.9" y="123.46" width="3" height="1.17" fill="#f23645"/>
<rect x="199.12" y="112.11" width="3" height="13.35" fill="#089981"/>
<rect x="203.35" y="112.11" width="3" height="2.5" fill="#f23645"/>
<rect x="207.57" y="107.94" width="3" height="7.18" fill="#089981"/>
<rect x="211.8" y="91.25" width="3" height="17.52" fill="#089981"/>
<rect x="216.03" y="74.06" width="3" height="18.02" fill="#089981"/>
<rect x="220.25" y="44.19" width="3" height="30.04" fill="#089981"/>
<rect x="224.48" y="42.77" width="3" height="1" fill="#089981"/>
<rect x="228.7" y="43.19" width="3" height="13.85" fill="#f23645"/>
<rect x="232.93" y="55.7" width="3" height="29.71" fill="#f23645"/>
<rect x="237.16" y="85.08" width="3" height="25.7" fill="#f23645"/>
<rect x="241.38" y="109.94" width="3" height="6.34" fill="#f23645"/>
<rect x="245.61" y="102.93" width="3" height="14.19" fill="#089981"/>
<rect x="249.83" y="102.93" width="3" height="8.34" fill="#f23645"/>
<rect x="254.06" y="95.76" width="3" height="15.02" fill="#089981"/>
<rect x="258.29" y="96.26" width="3" height="15.85" fill="#f23645"/>
<rect x="262.51" y="89.08" width="3" height="13.35" fill="#089981"/>
<rect x="266.74" y="52.87" width="3" height="36.72" fill="#089981"/>
<rect x="270.96" y="37.35" width="3" height="16.02" fill="#089981"/>
<rect x="275.19" y="37.85" width="3" height="10.01" fill="#f23645"/>
<rect x="279.42" y="47.03" width="3" height="7.51" fill="#f23645"/>
<rect x="283.64" y="54.2" width="3" height="25.87" fill="#f23645"/>
<rect x="287.87" y="79.07" width="3" height="23.03" fill="#f23645"/>
<rect x="292.09" y="101.77" width="3" height="59.96" fill="#f23645"/>
<rect x="296.32" y="160.55" width="3" height="17.36" fill="#f23645"/>
<rect x="300.55" y="176.24" width="3" height="9.35" fill="#f23645"/>
<rect x="304.77" y="167.06" width="3" height="18.02" fill="#089981"/>
<rect x="309" y="164.23" width="3" height="2.84" fill="#089981"/>
<rect x="313.22" y="163.72" width="3" height="55.24" fill="#f23645"/>
<rect x="317.45" y="214.29" width="3" height="5.01" fill="#089981"/>
<rect x="321.68" y="180.08" width="3" height="34.71" fill="#089981"/>
<rect x="325.9" y="180.08" width="3" height="8.01" fill="#f23645"/>
<rect x="330.13" y="185.09" width="3" height="3" fill="#089981"/>
<rect x="334.35" y="184.25" width="3" height="1.67" fill="#089981"/>
<rect x="338.58" y="176.24" width="3" height="8.85" fill="#089981"/>
<rect x="342.81" y="160.05" width="3" height="16.69" fill="#089981"/>
<rect x="347.03" y="160.05" width="3" height="11.68" fill="#f23645"/>
<rect x="351.26" y="170.07" width="3" height="2" fill="#089981"/>
<rect x="355.48" y="168.9" width="3" height="1.17" fill="#089981"/>
<rect x="359.71" y="169.57" width="3" height="26.7" fill="#f23645"/>
<rect x="363.94" y="195.1" width="3" height="7.01" fill="#f23645"/>
<rect x="368.16" y="165.89" width="3" height="36.21" fill="#089981"/>
<rect x="372.39" y="166.23" width="3" height="13.35" fill="#f23645"/>
<rect x="376.61" y="175.07" width="3" height="5.51" fill="#089981"/>
<rect x="380.84" y="185.84" width="3" height="14.52" fill="#f23645"/>
<rect x="385.07" y="196.69" width="3" height="4.17" fill="#089981"/>
<rect x="389.29" y="196.19" width="3" height="1.34" fill="#f23645"/>
<rect x="393.52" y="197.52" width="3" height="23.36" fill="#f23645"/>
<rect x="397.74" y="220.05" width="3" height="18.69" fill="#f23645"/>
<rect x="401.97" y="237.91" width="3" height="1.34" fill="#089981"/>
<rect x="406.2" y="233.07" width="3" height="5.67" fill="#089981"/>
<rect x="410.42" y="233.4" width="3" height="3.34" fill="#f23645"/>
<rect x="414.65" y="236.24" width="3" height="31.38" fill="#f23645"/>
<rect x="418.87" y="266.78" width="3" height="5.84" fill="#f23645"/>
<rect x="423.1" y="250.93" width="3" height="21.7" fill="#089981"/>
<rect x="427.33" y="251.43" width="3" height="2" fill="#f23645"/>
<rect x="431.55" y="250.59" width="3" height="2.84" fill="#089981"/>
<rect x="435.78" y="250.93" width="3" height="1.17" fill="#f23645"/>
<rect x="440" y="232.07" width="3" height="19.69" fill="#089981"/>
<rect x="444.23" y="223.72" width="3" height="8.34" fill="#089981"/>
<rect x="448.46" y="224.23" width="3" height="13.02" fill="#f23645"/>
<rect x="452.68" y="236.24" width="3" height="25.2" fill="#f23645"/>
<rect x="456.91" y="256.77" width="3" height="5.01" fill="#089981"/>
<rect x="461.13" y="256.77" width="3" height="8.34" fill="#f23645"/>
<rect x="465.36" y="252.26" width="3" height="13.18" fill="#089981"/>
<rect x="469.59" y="245.92" width="3" height="6.68" fill="#089981"/>
<rect x="473.81" y="231.74" width="3" height="14.52" fill="#089981"/>
<rect x="478.04" y="220.05" width="3" height="12.18" fill="#089981"/>
<rect x="482.26" y="213.88" width="3" height="7.01" fill="#089981"/>
<rect x="486.49" y="213.71" width="3" height="21.36" fill="#f23645"/>
<rect x="490.72" y="221.72" width="3" height="12.85" fill="#089981"/>
<rect x="494.94" y="222.06" width="3" height="5.51" fill="#f23645"/>
<rect x="499.17" y="225.89" width="3" height="1.67" fill="#089981"/>
<rect x="503.39" y="225.89" width="3" height="7.18" fill="#f23645"/>
<rect x="507.62" y="230.9" width="3" height="2.17" fill="#089981"/>
<rect x="511.85" y="238.08" width="3" height="5.34" fill="#f23645"/>
<rect x="516.07" y="227.23" width="3" height="16.19" fill="#089981"/>
<rect x="520.3" y="219.22" width="3" height="8.34" fill="#089981"/>
<rect x="524.52" y="219.22" width="3" height="10.35" fill="#f23645"/>
<rect x="528.75" y="227.56" width="3" height="1.67" fill="#089981"/>
<rect x="532.98" y="228.4" width="3" height="2.84" fill="#f23645"/>
<rect x="537.2" y="230.9" width="3" height="3.84" fill="#f23645"/>
<rect x="541.43" y="234.24" width="3" height="1.67" fill="#f23645"/>
<rect x="545.65" y="234.66" width="3" height="1" fill="#f23645"/>
<rect x="549.88" y="233.4" width="3" height="3.34" fill="#089981"/>
<rect x="554.11" y="235.57" width="3" height="20.03" fill="#f23645"/>
<rect x="558.33" y="255.1" width="3" height="10.35" fill="#f23645"/>
<rect x="562.56" y="264.28" width="3" height="2.84" fill="#f23645"/>
<rect x="566.78" y="252.6" width="3" height="14.52" fill="#089981"/>
<rect x="571.01" y="246.42" width="3" height="7.01" fill="#089981"/>
<rect x="575.24" y="246.76" width="3" height="3" fill="#f23645"/>
<rect x="579.46" y="244.25" width="3" height="5.84" fill="#089981"/>
<rect x="583.69" y="239.25" width="3" height="5.51" fill="#089981"/>
<rect x="587.91" y="238.74" width="3" height="8.85" fill="#f23645"/>
<rect x="592.14" y="238.41" width="3" height="9.18" fill="#089981"/>
<rect x="596.37" y="229.23" width="3" height="11.18" fill="#089981"/>
<rect x="600.59" y="223.06" width="3" height="7.01" fill="#089981"/>
<rect x="604.82" y="223.39" width="3" height="20.53" fill="#f23645"/>
<rect x="609.04" y="240.08" width="3" height="3.67" fill="#089981"/>
<rect x="613.27" y="238.41" width="3" height="3.34" fill="#089981"/>
<rect x="617.5" y="236.74" width="3" height="2" fill="#089981"/>
<rect x="621.72" y="228.97" width="3" height="6.17" fill="#089981"/>
<rect x="625.95" y="228.97" width="3" height="2.84" fill="#f23645"/>
<rect x="630.17" y="231.3" width="3" height="6.01" fill="#f23645"/>
<rect x="634.4" y="230.13" width="3" height="7.51" fill="#089981"/>
<rect x="638.63" y="230.13" width="3" height="1.17" fill="#f23645"/>
<rect x="642.85" y="227.3" width="3" height="5.67" fill="#089981"/>
<rect x="647.08" y="206.77" width="3" height="20.53" fill="#089981"/>
<rect x="651.3" y="194.25" width="3" height="13.35" fill="#089981"/>
<rect x="655.53" y="188.41" width="3" height="6.34" fill="#089981"/>
<rect x="659.76" y="188.08" width="3" height="1.17" fill="#f23645"/>
<rect x="663.98" y="174.23" width="3" height="15.02" fill="#089981"/>
<rect x="668.21" y="170.39" width="3" height="4.34" fill="#089981"/>
<rect x="672.43" y="157.04" width="3" height="13.85" fill="#089981"/>
<rect x="676.66" y="157.04" width="3" height="9.35" fill="#f23645"/>
<rect x="680.89" y="158.87" width="3" height="7.51" fill="#089981"/>
<rect x="685.11" y="158.87" width="3" height="19.53" fill="#f23645"/>
<rect x="689.34" y="169.72" width="3" height="8.68" fill="#089981"/>
<rect x="693.56" y="159.21" width="3" height="10.85" fill="#089981"/>
<rect x="697.79" y="159.21" width="3" height="16.19" fill="#f23645"/>
<rect x="702.02" y="172.56" width="3" height="3" fill="#089981"/>
<rect x="706.24" y="168.05" width="3" height="5.01" fill="#089981"/>
<rect x="710.47" y="138.44" width="3" height="30.04" fill="#089981"/>
<rect x="714.69" y="130.93" width="3" height="8.85" fill="#089981"/>
<rect x="718.92" y="130.93" width="3" height="4.17" fill="#f23645"/>
<rect x="723.15" y="122.58" width="3" height="12.52" fill="#089981"/>
<rect x="727.37" y="119.75" width="3" height="4.17" fill="#089981"/>
<rect x="731.6" y="113.91" width="3" height="6.17" fill="#089981"/>
<rect x="735.82" y="113.91" width="3" height="14.85" fill="#f23645"/>
<rect x="740.05" y="127.59" width="3" height="20.86" fill="#f23645"/>
<rect x="744.28" y="136.77" width="3" height="12.18" fill="#089981"/>
<rect x="748.5" y="126.76" width="3" height="10.35" fill="#089981"/>
<rect x="752.73" y="126.76" width="3" height="12.85" fill="#f23645"/>
<rect x="756.95" y="139.27" width="3" height="25.53" fill="#f23645"/>
<rect x="761.18" y="164.21" width="3" height="20.36" fill="#f23645"/>
<rect x="765.41" y="184.74" width="3" height="2.5" fill="#f23645"/>
<rect x="769.63" y="186.74" width="3" height="1.67" fill="#f23645"/>
<rect x="773.86" y="183.07" width="3" height="6.17" fill="#089981"/>
<rect x="778.08" y="183.07" width="3" height="7.01" fill="#f23645"/>
<rect x="782.31" y="187.24" width="3" height="3.17" fill="#089981"/>
<rect x="786.54" y="187.24" width="3" height="5.34" fill="#f23645"/>
<rect x="790.76" y="192.08" width="3" height="8.34" fill="#f23645"/>
<rect x="794.99" y="200.09" width="3" height="27.2" fill="#f23645"/>
<rect x="799.21" y="213.95" width="3" height="13.68" fill="#089981"/>
<rect x="803.44" y="213.95" width="3" height="12.52" fill="#f23645"/>
<rect x="807.67" y="225.63" width="3" height="1.17" fill="#089981"/>
<rect x="811.89" y="212.94" width="3" height="13.52" fill="#089981"/>
<rect x="816.12" y="205.1" width="3" height="8.34" fill="#089981"/>
<rect x="820.34" y="190.91" width="3" height="15.02" fill="#089981"/>
<rect x="824.57" y="191.25" width="3" height="2.67" fill="#f23645"/>
<rect x="828.8" y="193.42" width="3" height="5.84" fill="#f23645"/>
<rect x="833.02" y="188.08" width="3" height="11.18" fill="#089981"/>
<rect x="837.25" y="173.72" width="3" height="14.69" fill="#089981"/>
<rect x="841.47" y="174.23" width="3" height="8.85" fill="#f23645"/>
<rect x="845.7" y="182.57" width="3" height="13.35" fill="#f23645"/>
<rect x="849.93" y="178.73" width="3" height="17.69" fill="#089981"/>
<rect x="854.15" y="178.73" width="3" height="16.86" fill="#f23645"/>
<rect x="858.38" y="195.09" width="3" height="7.01" fill="#f23645"/>
<rect x="862.6" y="200.95" width="3" height="1.17" fill="#089981"/>
<rect x="866.83" y="196.78" width="3" height="5.01" fill="#089981"/>
<rect x="871.06" y="188.44" width="3" height="9.18" fill="#089981"/>
<rect x="875.28" y="188.77" width="3" height="4.67" fill="#f23645"/>
<rect x="879.51" y="192.11" width="3" height="11.68" fill="#f23645"/>
<rect x="883.73" y="203.46" width="3" height="13.35" fill="#f23645"/>
<rect x="887.96" y="213.97" width="3" height="2.84" fill="#089981"/>
<rect x="892.19" y="196.78" width="3" height="17.52" fill="#089981"/>
<rect x="896.41" y="187.1" width="3" height="10.51" fill="#089981"/>
<rect x="900.64" y="187.6" width="3" height="10.85" fill="#f23645"/>
<rect x="904.86" y="193.78" width="3" height="4.34" fill="#089981"/>
<rect x="909.09" y="194.61" width="3" height="13.02" fill="#f23645"/>
<rect x="913.32" y="200.62" width="3" height="7.01" fill="#089981"/>
<rect x="917.54" y="195.61" width="3" height="5.84" fill="#089981"/>
<rect x="921.77" y="185.43" width="3" height="12.18" fill="#089981"/>
<rect x="925.99" y="171.25" width="3" height="15.52" fill="#089981"/>
<rect x="930.22" y="158.4" width="3" height="13.35" fill="#089981"/>
<rect x="934.45" y="158.73" width="3" height="1" fill="#f23645"/>
<rect x="938.67" y="158.9" width="3" height="6.51" fill="#f23645"/>
<rect x="942.9" y="163.4" width="3" height="1.34" fill="#089981"/>
<rect x="947.12" y="163.91" width="3" height="6.17" fill="#f23645"/>
<rect x="951.35" y="163.91" width="3" height="6.17" fill="#089981"/>
<rect x="955.58" y="163.4" width="3" height="1.34" fill="#f23645"/>
<rect x="959.8" y="147.05" width="3" height="17.19" fill="#089981"/>
<rect x="964.03" y="147.05" width="3" height="5.01" fill="#f23645"/>
<rect x="968.25" y="143.88" width="3" height="8.18" fill="#089981"/>
<rect x="972.48" y="144.21" width="3" height="4.51" fill="#f23645"/>
<rect x="976.71" y="148.05" width="3" height="1.67" fill="#f23645"/>
<rect x="980.93" y="147.55" width="3" height="1.34" fill="#089981"/>
<rect x="985.16" y="148.05" width="3" height="9.01" fill="#f23645"/>
<rect x="989.38" y="150.05" width="3" height="6.68" fill="#089981"/>
<rect x="993.61" y="149.55" width="3" height="3" fill="#f23645"/>
<rect x="997.84" y="150.55" width="3" height="2" fill="#089981"/>
<rect x="1002.06" y="151.72" width="3" height="1.34" fill="#f23645"/>
<rect x="1006.29" y="148.89" width="3" height="2.34" fill="#089981"/>
<rect x="1010.51" y="137.59" width="3" height="11.68" fill="#089981"/>
<rect x="1014.74" y="137.26" width="3" height="7.01" fill="#f23645"/>
<rect x="1018.97" y="142.6" width="3" height="1.67" fill="#f23645"/>
<rect x="1023.19" y="128.08" width="3" height="16.69" fill="#089981"/>
<rect x="1027.42" y="119.57" width="3" height="9.68" fill="#089981"/>
<rect x="1031.64" y="117.23" width="3" height="2.84" fill="#089981"/>
<rect x="1035.87" y="109.55" width="3" height="10.01" fill="#089981"/>
<rect x="1040.1" y="106.21" width="3" height="3.34" fill="#089981"/>
<rect x="1044.32" y="100.87" width="3" height="6.17" fill="#089981"/>
<rect x="1048.55" y="100.87" width="3" height="12.85" fill="#f23645"/>
<rect x="1052.77" y="110.05" width="3" height="3.67" fill="#089981"/>
<rect x="1057" y="110.05" width="3" height="6.17" fill="#f23645"/>
<rect x="1061.23" y="115.89" width="3" height="5.01" fill="#f23645"/>
<rect x="1065.45" y="120.57" width="3" height="2.34" fill="#f23645"/>
<rect x="1069.68" y="122.57" width="3" height="5.34" fill="#f23645"/>
<rect x="1073.9" y="127.24" width="3" height="17.86" fill="#f23645"/>
<rect x="1078.13" y="132.08" width="3" height="13.52" fill="#089981"/>
<rect x="1082.36" y="122.57" width="3" height="10.01" fill="#089981"/>
<rect x="1086.58" y="118.4" width="3" height="5.84" fill="#089981"/>
<rect x="1090.81" y="118.4" width="3" height="8.34" fill="#f23645"/>
<rect x="1095.03" y="125.07" width="3" height="2" fill="#089981"/>
<rect x="1099.26" y="121.74" width="3" height="4.17" fill="#089981"/>
<rect x="1103.49" y="121.74" width="3" height="4.17" fill="#f23645"/>
<rect x="1107.71" y="124.57" width="3" height="1" fill="#f23645"/>
<rect x="1111.94" y="126.24" width="3" height="6.68" fill="#f23645"/>
<rect x="1116.16" y="132.08" width="3" height="1.34" fill="#f23645"/>
<rect x="1120.39" y="130.41" width="3" height="3.34" fill="#089981"/>
<rect x="1124.62" y="126.24" width="3" height="4.67" fill="#089981"/>
<rect x="1128.84" y="123.07" width="3" height="3.17" fill="#089981"/>
<rect x="1133.07" y="125.07" width="3" height="1.67" fill="#f23645"/>
<rect x="1137.29" y="124.74" width="3" height="1.67" fill="#089981"/>
<rect x="1141.52" y="117.23" width="3" height="7.84" fill="#089981"/>
<rect x="1145.75" y="116.73" width="3" height="1.17" fill="#f23645"/>
<rect x="1149.97" y="107.55" width="3" height="10.85" fill="#089981"/>
<rect x="1154.2" y="107.55" width="3" height="18.36" fill="#f23645"/>
<rect x="1158.42" y="125.91" width="3" height="3" fill="#f23645"/>
<rect x="1162.65" y="128.91" width="3" height="1.5" fill="#089981"/>
<rect x="1166.88" y="123.91" width="3" height="6.17" fill="#089981"/>
<rect x="1171.1" y="123.91" width="3" height="2.5" fill="#f23645"/>
<rect x="1175.33" y="125.07" width="3" height="1.34" fill="#089981"/>
<rect x="1179.55" y="124.74" width="3" height="15.35" fill="#f23645"/>
<rect x="1183.78" y="136.76" width="3" height="2.5" fill="#089981"/>
<rect x="1188.01" y="132.92" width="3" height="4.17" fill="#089981"/>
<rect x="1192.23" y="132.92" width="3" height="1.34" fill="#f23645"/>
<rect x="1196.46" y="133.08" width="3" height="6.17" fill="#f23645"/>
<rect x="1200.68" y="126.74" width="3" height="12.52" fill="#089981"/>
<rect x="1204.91" y="123.07" width="3" height="5.34" fill="#089981"/>
<rect x="1209.14" y="123.07" width="3" height="1.17" fill="#f23645"/>
<rect x="1213.36" y="123.4" width="3" height="1.17" fill="#f23645"/>
<rect x="1217.59" y="124.24" width="3" height="2.5" fill="#f23645"/>
<rect x="1221.81" y="126.24" width="3" height="2.17" fill="#f23645"/>
<rect x="1226.04" y="127.91" width="3" height="4.17" fill="#f23645"/>
<rect x="1230.27" y="131.42" width="3" height="2.5" fill="#f23645"/>
<rect x="1234.49" y="120.9" width="3" height="12.52" fill="#089981"/>
<rect x="1238.72" y="113.06" width="3" height="10.01" fill="#089981"/>
<rect x="1242.94" y="113.06" width="3" height="7.84" fill="#f23645"/>
<rect x="1247.17" y="120.57" width="3" height="1.17" fill="#f23645"/>
<rect x="1251.4" y="121.4" width="3" height="2.84" fill="#f23645"/>
<rect x="1255.62" y="100.09" width="3" height="25.87" fill="#089981"/>
<rect x="1259.85" y="91.42" width="3" height="10.01" fill="#089981"/>
<rect x="1264.07" y="89.75" width="3" height="2.34" fill="#089981"/>
<rect x="1268.3" y="90.08" width="3" height="4.67" fill="#f23645"/>
<rect x="1272.53" y="84.24" width="3" height="10.01" fill="#089981"/>
<rect x="1276.75" y="58.87" width="3" height="26.7" fill="#089981"/>
<rect x="1280.98" y="59.21" width="3" height="25.03" fill="#f23645"/>
<rect x="1285.2" y="79.73" width="3" height="4.01" fill="#089981"/>
<rect x="1289.43" y="78.06" width="3" height="2.84" fill="#089981"/>
<rect x="1293.66" y="77.06" width="3" height="1.34" fill="#089981"/>
<rect x="1297.88" y="63.88" width="3" height="14.19" fill="#089981"/>
<rect x="1302.11" y="57.54" width="3" height="7.51" fill="#089981"/>
<rect x="1306.33" y="55.03" width="3" height="2.84" fill="#089981"/>
<rect x="1310.56" y="55.2" width="3" height="1" fill="#089981"/>
</g>
<line x1="1.2" y1="56.0" x2="1464.5" y2="56.0" stroke="#089981" stroke-width="1.1" stroke-dasharray="1.5 1.6" stroke-opacity="0.85"/>
<polyline fill="none" stroke="#a057c5" stroke-width="1.25" stroke-linejoin="round" points="1.56,411.93 5.86,403.52 10.75,406.06 14.07,402.54 18.96,401.18 22.08,426.19 31.27,409.38 35.18,415.25 40.06,409.38 43.97,402.15 47.88,396.88 52.37,395.7 56.67,393.36 61.17,393.95 64.49,424.63 69.38,418.37 73.87,416.22 77.19,410.95 82.08,433.42 85.99,460.39 90.29,451.99 94.2,466.64 99.28,460.78 105.53,450.03 111.39,442.22 115.3,437.92 120.19,429.51 125.07,421.7 128,415.83 132.89,414.27 136.21,404.11 140.71,402.54 145.59,396.29 149.11,388.47 154,415.44 158.3,413.88 162.2,411.93 167.09,410.56 172.95,400.2 178.42,391.41 183.7,398.83 188,405.09 192.1,399.61 196.01,400.2 199.73,393.36 204.22,396.29 208.13,392.97 213.02,385.54 216.92,379.29 220.83,369.52 225.72,369.52 228.65,382.61 231.58,405.09 234.51,424.63 238.42,446.13 242.33,451.4 246.63,442.8 250.54,448.08 255.03,439.68 259.92,451.6 263.83,434.4 268.13,418.77 271.64,413.49 276.53,421.7 281.02,426.97 284.35,446.13 289.23,461.17 290,462.87 292.35,488.67 297.43,493.75 302.12,496.68 306.03,484.96 310.13,483.39 313.84,502.94 318.73,500 322.25,479.48 327.13,482.42 331.43,481.44 335.34,480.07 339.83,475.19 343.16,464.83 348.04,471.08 352.54,469.71 356.45,469.71 360.94,483.39 364.65,486.72 369.15,461.9 374.03,469.13 377.36,466.78 382.24,479.48 385.76,477.92 390.25,478.12 394.55,488.67 398.85,498.05 402.96,498.44 406.87,494.53 411.16,495.71 416.05,509.78 419.96,511.73 424.45,491.6 428.36,492.58 432.27,490.23 436.18,490.62 440.87,472.06 445.76,465.8 449.27,474.99 454.16,489.26 457.48,485.93 461.98,490.23 466.86,478.12 470.18,472.64 474.68,460.92 478.59,451.73 483.47,446.85 487.97,463.46 491.68,454.08 496.18,457.99 500.08,457.4 504.38,461.9 508.88,461.9 512.79,471.28 517.09,457.99 520.99,450.76 525.88,458.97 532.33,458.57 538.19,463.85 542.1,465.8 546.4,466.39 550.31,465.8 554.8,486.32 559.69,494.73 563.21,495.71 567.9,476.55 571.41,468.74 576.3,471.67 580,465.8 584.3,457.99 589.19,466.39 593.29,456.03 597.59,446.26 602.08,439.81 605.41,463.46 610.29,460.53 614.2,457.99 618.5,457.01 622.99,446.26 627.49,451.15 631.79,457.99 635.31,448.22 639.61,450.17 644.49,445.29 648.01,423.79 651.33,415.97 654.26,411.09 657.19,409.13 660.71,409.72 664.42,399.95 668.92,397.41 673.8,389.98 677.71,405.22 682.01,401.31 685.53,429.06 690.42,422.22 694.91,415.58 698.62,435.9 703.12,433.95 707.03,429.65 711.52,411.09 716.21,406.2 719.34,410.5 724.62,403.85 728.92,401.31 732.43,399.36 737.32,419.49 740.84,442.35 745.14,434.54 749.04,427.7 753.93,440.4 757.84,457.99 761.75,476.94 765.66,478.12 770.15,479.09 774.45,474.21 778.75,479.48 783.24,476.94 787.74,481.05 791.45,486.72 795.95,504.5 799.86,489.84 804.74,496.68 809.04,496.49 812.56,481.44 817.44,473.62 821.35,459.94 825.85,462.48 830.15,466.78 834.06,456.03 838.55,444.89 842.85,454.67 846.76,464.24 851.25,450.17 855.16,463.85 859.85,469.13 863.37,469.13 868.25,463.85 870,460.92 872.35,457.4 875.86,459.94 880.16,469.71 884.66,481.83 888.96,478.9 892.86,459.36 897.36,451.73 902.25,461.31 905.76,457.99 910.45,469.32 914.56,463.85 918.47,459.36 922.77,449.19 927.06,435.51 931.56,426.72 935.08,426.72 939.77,433.56 944.26,433.56 948.17,440.4 952.67,435.12 956.38,434.93 960.87,420.27 965.76,426.72 969.28,420.86 974.16,425.16 978.07,427.31 982.37,426.72 986.67,441.38 990.58,434.54 995.07,436.49 998.98,436.49 1003.48,437.47 1006.8,432.97 1011.68,419.88 1016.18,429.65 1019.5,432.19 1024.39,414.02 1027.91,407.18 1032.2,406.2 1037.09,398.97 1041.58,395.45 1045.49,392.91 1048.82,417.53 1053.7,415.38 1058,424.77 1062.1,435.51 1066.4,439.03 1070.31,446.85 1074.81,474.01 1079.11,456.03 1083.41,444.31 1087.9,439.81 1091.81,450.76 1096.3,449.19 1100.99,444.31 1104.9,451.15 1109.01,451.73 1112.92,460.92 1117.61,462.48 1121.71,457.01 1126.01,450.76 1130.5,449.58 1134.22,452.13 1138.71,448.8 1142.62,435.9 1146.92,436.49 1151.41,421.83 1154.93,457.4 1159.23,461.51 1160,461.9 1163.52,463.26 1167.82,455.45 1172.7,458.38 1176.61,456.62 1180.91,478.9 1185.41,472.64 1189.31,466.78 1194.2,467.17 1197.52,477.53 1202.02,457.01 1205.93,448.61 1210.81,448.8 1214.72,450.76 1218.63,456.03 1222.93,458.97 1227.42,465.8 1231.72,469.13 1235.24,444.31 1239.73,431.21 1244.42,447.83 1247.94,449.19 1252.83,454.08 1256.35,420.86 1261.23,412.06 1265.92,410.69 1269.44,416.95 1273.93,408.74 1277.26,390.57 1282.14,428.67 1287.03,426.33 1290.94,425.16 1295.24,423.79 1299.14,413.04 1303.64,408.74 1307.55,407.57 1311.85,407.18"/>
<polyline fill="none" stroke="#ff5252" stroke-width="1.25" stroke-linejoin="round" points="1.56,630.87 9.77,618.17 14.66,609.38 18.57,604.49 22.08,602.54 26.38,601.95 31.27,598.24 36.15,593.74 40.06,589.83 43.97,582.99 49.83,573.22 55.7,563.45 60.58,556.03 65.47,558.96 70.35,561.11 77.19,563.06 81.1,568.34 85.99,576.15 89.9,581.04 93.8,586.51 98.69,590.42 102.6,597.06 106.51,605.47 110.42,611.33 115.3,619.54 120.19,620.52 124.68,621.1 128.98,619.54 132.89,617.58 136.8,613.29 140.71,608.99 145.59,602.93 149.5,595.11 153.41,593.74 157.32,592.37 162.2,595.31 166.11,597.06 170.02,597.65 174.91,595.7 179.4,591.79 185.66,589.83 191.52,587.88 196.01,586.32 199.34,582.99 204.22,579.67 209.11,574.79 213.02,570.29 216.92,563.45 220.83,553.29 224.74,550.16 229.63,545.47 233.54,545.86 237.44,552.7 242.33,567.36 246.24,576.15 251.12,585.93 256.01,594.72 263.44,607.03 267.74,606.84 271.64,604.88 276.14,602.54 281.02,602.93 285.32,608.4 289.23,614.85 290,614.4 294.89,611.08 301.73,607.56 305.63,601.7 310.52,597.79 314.43,590.95 318.34,586.06 322.25,583.13 327.13,580.59 331.43,578.25 335.93,579.22 339.83,580.2 343.74,583.72 348.63,587.04 352.54,588.99 356.45,592.51 360.35,593.29 364.65,592.9 369.15,597.79 374.03,603.26 377.94,607.56 383.8,609.51 389.67,610.88 394.55,609.12 398.46,605.21 403.35,601.31 406.67,597.79 411.16,596.42 416.05,591.93 419.96,586.45 423.87,585.67 427.78,585.09 432.66,582.15 436.57,581.57 441.07,583.13 445.36,587.43 449.66,591.53 454.16,590.56 458.07,589.58 462.37,589.97 466.86,592.32 470.77,597.79 475.26,603.06 479.56,610.49 483.47,616.35 487.38,620.65 492.27,626.13 496.18,629.64 500.08,634.53 504.97,635.51 508.88,636.29 512.79,635.9 516.7,636.87 521.58,640.2 527.44,643.13 533.31,645.67 538.19,645.67 544.06,643.71 550.5,641.37 555.78,634.92 560.67,628.08 563.6,623.58 567.51,622.8 571.41,624.76 576.3,627.69 580,629.64 584.89,633.94 592.7,637.46 597.59,642.74 602.47,647.23 606.38,648.99 614.2,649.19 619.09,652.51 622.99,656.03 626.9,660.72 631.2,662.87 635.7,665.8 639.61,668.14 644.1,669.12 648.4,663.84 652.31,657.78 656.22,649.58 660.71,641.37 665.01,631.01 669.51,622.22 673.8,613.03 677.71,603.65 682.01,596.22 686.51,595.83 690.81,595.44 695.3,593.29 698.82,593.88 703.12,596.81 706.64,598.37 710.94,594.86 715.43,589.97 719.73,584.5 724.62,581.18 728.92,577.27 732.82,573.75 736.93,575.9 741.23,585.09 745.14,591.53 750.02,597.79 754.32,603.65 758.82,610.49 763.7,608.54 770.54,606.19 778.36,607.56 784.22,606.58 791.45,606.58 795.95,603.06 800.44,598.37 804.74,594.86 809.24,591.34 812.56,591.93 816.47,596.42 821.35,602.67 825.85,606.97 830.15,609.9 835.03,617.72 840.9,626.13 846.76,631.99 851.64,637.46 856.53,640.2 860.44,641.76 863.37,642.15 868.25,647.23 870,648.21 875.86,652.51 880.75,652.51 885.63,649.19 889.54,647.23 893.45,648.6 898.34,652.12 905.18,655.83 910.06,654.46 914.56,653.48 918.47,654.07 922.77,656.81 926.67,658.96 930.97,658.76 935.47,656.42 939.38,655.05 943.29,656.42 948.17,657.39 955.99,656.03 960.87,651.53 965.76,647.23 969.28,643.32 975.53,643.13 982.37,643.13 986.28,646.25 990.77,650.55 995.07,652.9 998.98,655.44 1002.89,657 1006.41,658.37 1011.68,653.88 1015.59,653.48 1020.09,652.51 1024.39,648.01 1028.3,641.37 1033.18,634.33 1037.09,626.71 1041.58,617.92 1045.49,610.88 1048.82,608.15 1053.7,605.61 1058.59,603.26 1062.5,608.54 1066.4,612.84 1070.31,619.68 1075.2,623.58 1079.69,627.1 1083.02,632.97 1087.9,637.85 1091.81,643.32 1096.3,648.21 1100.6,648.6 1104.51,650.55 1108.81,652.51 1112.92,657 1117.22,659.35 1122.1,663.84 1126.01,666.77 1130.9,669.12 1134.8,671.46 1138.71,674.4 1146.53,674 1151.41,668.73 1159.23,668.73 1160,668.73 1167.82,670.49 1173.68,670.1 1179.54,672.05 1185.41,674.4 1190.29,675.96 1193.61,677.52 1197.13,675.96 1202.02,678.89 1206.32,681.82 1212.77,683.78 1218.63,685.14 1224.49,686.12 1230.35,686.71 1235.24,687.68 1239.15,685.14 1244.03,680.45 1248.92,676.35 1252.83,672.64 1256.74,662.87 1260.64,653.88 1265.53,643.71 1269.44,633.94 1273.93,623.58 1277.26,612.45 1282.14,598.37 1288.98,590.36 1294.84,584.5 1300.71,575.31 1306.57,566.52 1311.85,559.09"/>
<text x="1474" y="31.8" font-size="14.4" fill="#131722" text-anchor="start" textLength="49.4" lengthAdjust="spacingAndGlyphs">4400.00</text>
<text x="1474" y="83.3" font-size="14.4" fill="#131722" text-anchor="start" textLength="49.4" lengthAdjust="spacingAndGlyphs">4300.00</text>
<text x="1474" y="135" font-size="14.4" fill="#131722" text-anchor="start" textLength="49.4" lengthAdjust="spacingAndGlyphs">4200.00</text>
<text x="1474" y="186.6" font-size="14.4" fill="#131722" text-anchor="start" textLength="49.4" lengthAdjust="spacingAndGlyphs">4100.00</text>
<text x="1474" y="238.1" font-size="14.4" fill="#131722" text-anchor="start" textLength="49.4" lengthAdjust="spacingAndGlyphs">4000.00</text>
<text x="1474" y="289.7" font-size="14.4" fill="#131722" text-anchor="start" textLength="49.4" lengthAdjust="spacingAndGlyphs">3900.00</text>
<text x="1474" y="341.3" font-size="14.4" fill="#131722" text-anchor="start" textLength="49.4" lengthAdjust="spacingAndGlyphs">3800.00</text>
<text x="1474" y="390.7" font-size="14.4" fill="#131722" text-anchor="start" textLength="34.6" lengthAdjust="spacingAndGlyphs">80.00</text>
<text x="1474" y="439" font-size="14.4" fill="#131722" text-anchor="start" textLength="34.6" lengthAdjust="spacingAndGlyphs">60.00</text>
<text x="1474" y="487.4" font-size="14.4" fill="#131722" text-anchor="start" textLength="34.6" lengthAdjust="spacingAndGlyphs">40.00</text>
<text x="1474" y="606.9" font-size="14.4" fill="#131722" text-anchor="start" textLength="34.6" lengthAdjust="spacingAndGlyphs">30.00</text>
<text x="1474" y="647.2" font-size="14.4" fill="#131722" text-anchor="start" textLength="34.6" lengthAdjust="spacingAndGlyphs">20.00</text>
<text x="1474" y="686.7" font-size="14.4" fill="#131722" text-anchor="start" textLength="34.6" lengthAdjust="spacingAndGlyphs">10.00</text>
<rect x="1464.4" y="46.1" width="65.3" height="19.6" rx="2" ry="2" fill="#089981"/>
<text x="1474" y="61" font-size="14.4" fill="#fff" text-anchor="start" textLength="49.4" lengthAdjust="spacingAndGlyphs">4343.08</text>
<rect x="1464.4" y="83.2" width="65.3" height="19.5" rx="2" ry="2" fill="#2962ff"/>
<text x="1474" y="98.05" font-size="14.4" fill="#fff" text-anchor="start" textLength="49.4" lengthAdjust="spacingAndGlyphs">4272.70</text>
<rect x="1464.4" y="102.7" width="65.3" height="19.5" rx="2" ry="2" fill="#2196f3"/>
<text x="1474" y="117.55" font-size="14.4" fill="#fff" text-anchor="start" textLength="49.4" lengthAdjust="spacingAndGlyphs">4233.66</text>
<rect x="1464.4" y="397.8" width="50.6" height="20.1" rx="2" ry="2" fill="#a057c5"/>
<text x="1474" y="412.95" font-size="14.4" fill="#fff" text-anchor="start" textLength="34.2" lengthAdjust="spacingAndGlyphs">71.12</text>
<rect x="1464.4" y="549.7" width="50.6" height="19.5" rx="2" ry="2" fill="#ff5252"/>
<text x="1474" y="564.55" font-size="14.4" fill="#fff" text-anchor="start" textLength="34.2" lengthAdjust="spacingAndGlyphs">40.43</text>
<text x="10.7" y="724.6" font-size="14.4" fill="#131722" text-anchor="start" textLength="7.2" lengthAdjust="spacingAndGlyphs">7</text>
<text x="108.95" y="724.6" font-size="14.4" fill="#131722" text-anchor="start" textLength="14.3" lengthAdjust="spacingAndGlyphs">11</text>
<text x="213.95" y="724.6" font-size="14.4" fill="#131722" text-anchor="start" textLength="14.3" lengthAdjust="spacingAndGlyphs">17</text>
<text x="320.15" y="724.6" font-size="14.4" fill="#131722" text-anchor="start" textLength="14.3" lengthAdjust="spacingAndGlyphs">23</text>
<text x="496.2" y="724.6" font-size="14.4" fill="#131722" text-anchor="start" textLength="25.2" lengthAdjust="spacingAndGlyphs" font-weight="bold">Nov</text>
<text x="611.2" y="724.6" font-size="14.4" fill="#131722" text-anchor="start" textLength="7.2" lengthAdjust="spacingAndGlyphs">7</text>
<text x="713.15" y="724.6" font-size="14.4" fill="#131722" text-anchor="start" textLength="14.3" lengthAdjust="spacingAndGlyphs">13</text>
<text x="818.65" y="724.6" font-size="14.4" fill="#131722" text-anchor="start" textLength="14.3" lengthAdjust="spacingAndGlyphs">19</text>
<text x="925.15" y="724.6" font-size="14.4" fill="#131722" text-anchor="start" textLength="14.3" lengthAdjust="spacingAndGlyphs">25</text>
<text x="1020.7" y="724.6" font-size="14.4" fill="#131722" text-anchor="start" textLength="25.2" lengthAdjust="spacingAndGlyphs" font-weight="bold">Dec</text>
<text x="1130.9" y="724.6" font-size="14.4" fill="#131722" text-anchor="start" textLength="7.2" lengthAdjust="spacingAndGlyphs">5</text>
<text x="1232.95" y="724.6" font-size="14.4" fill="#131722" text-anchor="start" textLength="14.3" lengthAdjust="spacingAndGlyphs">11</text>
<text x="1339.15" y="724.6" font-size="14.4" fill="#131722" text-anchor="start" textLength="14.3" lengthAdjust="spacingAndGlyphs">17</text>
<text x="1439.95" y="724.6" font-size="14.4" fill="#131722" text-anchor="start" textLength="14.3" lengthAdjust="spacingAndGlyphs">21</text>
<rect x="6" y="12" width="640" height="60" fill="#fff" fill-opacity="0"/>
<text x="10" y="24.3" font-size="14.4" fill="#131722" text-anchor="start" textLength="265.2" lengthAdjust="spacingAndGlyphs">Gold US Dollars per Ounce Spot Prices, 4h</text>
<text x="282.6" y="24.3" font-size="14.4" fill="#131722" text-anchor="start" textLength="10.3" lengthAdjust="spacingAndGlyphs">O</text>
<text x="292.8" y="24.3" font-size="14.4" fill="#089981" text-anchor="start" textLength="49.8" lengthAdjust="spacingAndGlyphs">4342.87</text>
<text x="350.5" y="24.3" font-size="14.4" fill="#131722" text-anchor="start" textLength="9.6" lengthAdjust="spacingAndGlyphs">H</text>
<text x="359.8" y="24.3" font-size="14.4" fill="#089981" text-anchor="start" textLength="49.8" lengthAdjust="spacingAndGlyphs">4345.77</text>
<text x="418" y="24.3" font-size="14.4" fill="#131722" text-anchor="start" textLength="7" lengthAdjust="spacingAndGlyphs">L</text>
<text x="425" y="24.3" font-size="14.4" fill="#089981" text-anchor="start" textLength="49.8" lengthAdjust="spacingAndGlyphs">4342.84</text>
<text x="482.8" y="24.3" font-size="14.4" fill="#131722" text-anchor="start" textLength="9" lengthAdjust="spacingAndGlyphs">C</text>
<text x="491.5" y="24.3" font-size="14.4" fill="#089981" text-anchor="start" textLength="49.8" lengthAdjust="spacingAndGlyphs">4343.08</text>
<text x="549.6" y="24.3" font-size="14.4" fill="#089981" text-anchor="start" textLength="34.6" lengthAdjust="spacingAndGlyphs">+0.20</text>
<text x="589.2" y="24.3" font-size="14.4" fill="#089981" text-anchor="start" textLength="54" lengthAdjust="spacingAndGlyphs">(+0.00%)</text>
<text x="9.6" y="44.1" font-size="14.4" fill="#131722" text-anchor="start" textLength="107.2" lengthAdjust="spacingAndGlyphs">MA (50, close, 0)</text>
<text x="124.9" y="44.1" font-size="14.4" fill="#2196f3" text-anchor="start" textLength="49.8" lengthAdjust="spacingAndGlyphs">4233.66</text>
<text x="9.6" y="63.7" font-size="14.4" fill="#131722" text-anchor="start" textLength="107.2" lengthAdjust="spacingAndGlyphs">MA (21, close, 0)</text>
<text x="124.9" y="63.7" font-size="14.4" fill="#2962ff" text-anchor="start" textLength="49.8" lengthAdjust="spacingAndGlyphs">4272.70</text>
<text x="9.8" y="376" font-size="14.4" fill="#131722" text-anchor="start" textLength="48.6" lengthAdjust="spacingAndGlyphs">RSI (14)</text>
<text x="67.8" y="376" font-size="14.4" fill="#a057c5" text-anchor="start" textLength="34.6" lengthAdjust="spacingAndGlyphs">71.12</text>
<text x="10.4" y="552" font-size="14.4" fill="#131722" text-anchor="start" textLength="78.4" lengthAdjust="spacingAndGlyphs">ADX (14, 14)</text>
<text x="97.3" y="552" font-size="14.4" fill="#ff5252" text-anchor="start" textLength="34.8" lengthAdjust="spacingAndGlyphs">40.43</text>
</svg>
</body></html>
